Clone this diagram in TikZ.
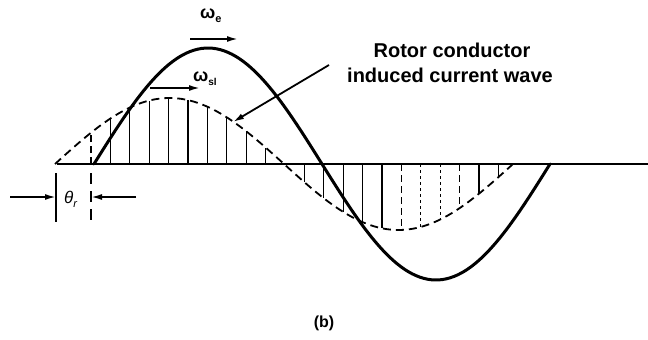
\documentclass[tikz,border=0pt]{standalone}
\usepackage{fontspec}
\setmainfont{Liberation Sans}
\usetikzlibrary{arrows.meta}
\begin{document}
\begin{tikzpicture}[x=1pt,y=-1pt,
  wave/.style={line width=3pt, line cap=round},
  dwave/.style={line width=1.8pt, dash pattern=on 8pt off 5pt},
  hatch/.style={line width=1.3pt},
  hatchdot/.style={line width=1.3pt, dash pattern=on 3pt off 3pt},
  hatchdash/.style={line width=1.3pt, dash pattern=on 7pt off 4pt},
  arr/.style={line width=1.8pt, -{Latex[length=11pt,width=6pt]}},
  lbl/.style={font=\bfseries\fontsize{20}{22}\selectfont, inner sep=0pt, anchor=base},
  sym/.style={font=\bfseries\fontsize{18}{20}\selectfont, inner sep=0pt, anchor=base west},
  ]
\useasboundingbox (0,0) rectangle (648,340);
\fill[white] (0,0) rectangle (648,340);

% axis
\coordinate (ax0) at (57,164);
\coordinate (ax1) at (648,164);
\draw[line width=2.2pt] (ax0) -- (ax1);

% hatching under the induced current wave
\foreach \k in {1,...,9,11,12,13,14,15,20,21} {
  \pgfmathsetmacro\xx{91+19.4*\k}
  \pgfmathsetmacro\yy{164-66*sin((\xx-55)/229*180)}
  \draw[hatch] (\xx,164) -- (\xx,\yy);
}
\foreach \k in {17,18} {
  \pgfmathsetmacro\xx{91+19.4*\k}
  \pgfmathsetmacro\yy{164-66*sin((\xx-55)/229*180)}
  \draw[hatchdot] (\xx,164) -- (\xx,\yy);
}
\foreach \k in {0,16,19} {
  \pgfmathsetmacro\xx{91+19.4*\k}
  \pgfmathsetmacro\yy{164-66*sin((\xx-55)/229*180)}
  \draw[hatchdash] (\xx,164) -- (\xx,\yy);
}

% induced current wave (dashed)
\draw[dwave] plot[domain=55:513, samples=120] (\x,{164-66*sin((\x-55)/229*180)});

% air gap flux wave (solid)
\draw[wave] plot[domain=94:550, samples=120, smooth] (\x,{164-116*sin((\x-94)/228*180)});

% omega_e
\node[sym] (we) at (200,18) {ω\raisebox{-4pt}{\fontsize{11}{11}\selectfont e}};
\coordinate (wea) at (190,39);
\coordinate (web) at (238,39);
\draw[arr] (wea) -- (web);

% omega_sl
\node[sym] (wsl) at (193,81) {ω\raisebox{-4pt}{\fontsize{10}{10}\selectfont sl}};
\coordinate (wsla) at (150,88);
\coordinate (wslb) at (200,88);
\draw[arr] (wsla) -- (wslb);

% label and pointer
\node[lbl] (rot1) at (452,57) {Rotor conductor};
\node[lbl] (rot2) at (450,82) {induced current wave};
\coordinate (lbls) at (329,65);
\coordinate (lblt) at (233,122);
\draw[arr] (lbls) -- (lblt);

% theta_r
\coordinate (t1a) at (56,173);
\coordinate (t1b) at (56,222);
\coordinate (t2a) at (91,173);
\coordinate (t2b) at (91,222);
\draw[line width=1.6pt] (t1a) -- (t1b);
\draw[line width=1.4pt, dash pattern=on 11pt off 7pt] (t2a) -- (t2b);
\node[sym, font=\fontsize{17}{20}\selectfont\itshape] (th) at (64,203) {θ\raisebox{-4pt}{\fontsize{11}{11}\selectfont r}};
\coordinate (tla) at (10,197);
\coordinate (tlb) at (56,197);
\coordinate (tra) at (136,197);
\coordinate (trb) at (91,197);
\draw[arr] (tla) -- (tlb);
\draw[arr] (tra) -- (trb);

% caption
\node[lbl, font=\bfseries\fontsize{16}{18}\selectfont] (cap) at (324,327) {(b)};
\end{tikzpicture}
\end{document}
